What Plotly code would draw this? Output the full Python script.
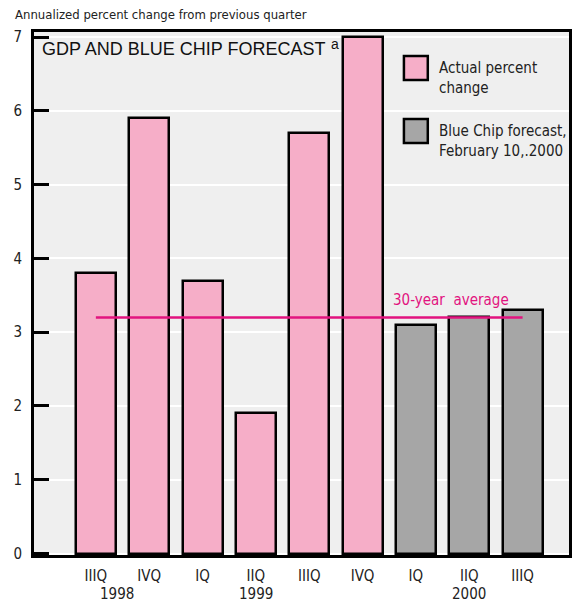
import plotly.graph_objects as go

# Quarterly real GDP growth, annualized percent change
quarters = ["IIIQ", "IVQ", "IQ", "IIQ", "IIIQ", "IVQ", "IQ", "IIQ", "IIIQ"]
actual_pos = [0, 1, 2, 3, 4, 5]
actual_vals = [3.8, 5.9, 3.7, 1.9, 5.7, 7.0]
forecast_pos = [6, 7, 8]
forecast_vals = [3.1, 3.2, 3.3]
avg_value = 3.2
years = ["1998", "1999", "2000"]
year_pos = [0.4, 3, 7]

PINK = "#f6aec8"
GREY = "#a6a6a6"
MAGENTA = "#e2137f"
NARROW = "DejaVu Sans Condensed, Liberation Sans Narrow, sans-serif"
SANS = "Liberation Sans, Arial, sans-serif"
TXT = "#222"

W, H = 574, 603
plot_l, plot_r, plot_t, plot_b = 34, 572, 32, 555


def px_x(px):
    return (px - plot_l) / (plot_r - plot_l)


def px_y(py):
    return (plot_b - py) / (plot_b - plot_t)


fig = go.Figure()
fig.add_trace(go.Bar(x=actual_pos, y=actual_vals, width=0.75,
                     marker=dict(color=PINK, line=dict(color="black", width=2.5)),
                     showlegend=False))
fig.add_trace(go.Bar(x=forecast_pos, y=forecast_vals, width=0.75,
                     marker=dict(color=GREY, line=dict(color="black", width=2.5)),
                     showlegend=False))
fig.add_trace(go.Scatter(x=[0, 8], y=[avg_value, avg_value], mode="lines",
                         line=dict(color=MAGENTA, width=2.5), showlegend=False,
                         hoverinfo="skip"))

annotations = [
    dict(text="Annualized percent change from previous quarter",
         x=px_x(13), y=px_y(5), xref="paper", yref="paper",
         xanchor="left", yanchor="top", showarrow=False,
         font=dict(family=NARROW, size=13, color=TXT)),
    dict(text="GDP AND BLUE CHIP FORECAST", x=px_x(40), y=px_y(37),
         xref="paper", yref="paper", xanchor="left", yanchor="top",
         showarrow=False, font=dict(family=SANS, size=18, color="#111")),
    dict(text="a", x=px_x(331), y=px_y(34), xref="paper", yref="paper",
         xanchor="left", yanchor="top", showarrow=False,
         font=dict(family=SANS, size=14, color="#111")),
    dict(text="30-year  average", x=6.65, y=avg_value, xref="x", yref="y",
         xanchor="center", yanchor="bottom", yshift=6, showarrow=False,
         font=dict(family=NARROW, size=15, color=MAGENTA)),
    dict(text="Actual percent<br>change", x=px_x(439), y=px_y(57),
         xref="paper", yref="paper", xanchor="left", yanchor="top",
         align="left", showarrow=False,
         font=dict(family=NARROW, size=15, color=TXT)),
    dict(text="Blue Chip forecast,<br>February 10,.2000", x=px_x(439),
         y=px_y(120), xref="paper", yref="paper", xanchor="left",
         yanchor="top", align="left", showarrow=False,
         font=dict(family=NARROW, size=15, color=TXT)),
]

for label, xp in zip(years, year_pos):
    annotations.append(dict(text=label, x=xp, y=px_y(583), xref="x", yref="paper",
                            xanchor="center", yanchor="top", showarrow=False,
                            font=dict(family=NARROW, size=15, color=TXT)))

shapes = [
    dict(type="rect", xref="paper", yref="paper",
         x0=px_x(406), x1=px_x(430), y0=px_y(56), y1=px_y(80),
         fillcolor=PINK, line=dict(color="black", width=2.5)),
    dict(type="rect", xref="paper", yref="paper",
         x0=px_x(406), x1=px_x(430), y0=px_y(119), y1=px_y(143),
         fillcolor=GREY, line=dict(color="black", width=2.5)),
]

fig.update_layout(
    width=W, height=H,
    margin=dict(l=plot_l, r=W - plot_r, t=plot_t, b=H - plot_b, pad=0),
    paper_bgcolor="white", plot_bgcolor="#efefef",
    bargap=0, showlegend=False,
    annotations=annotations, shapes=shapes,
    xaxis=dict(range=[-1.16, 8.87], tickmode="array",
               tickvals=list(range(len(quarters))), ticktext=quarters,
               showgrid=False, zeroline=False, ticks="",
               showline=True, linecolor="black", linewidth=3, mirror=True,
               ticklabelstandoff=5,
               tickfont=dict(family=NARROW, size=15, color=TXT)),
    yaxis=dict(range=[-0.02, 7.07], tickmode="array", tickvals=list(range(8)),
               showgrid=True, gridcolor="white", gridwidth=2, zeroline=False,
               ticks="inside", ticklen=15, tickwidth=2.5, tickcolor="black",
               showline=True, linecolor="black", linewidth=3, mirror=True,
               ticklabelstandoff=6,
               tickfont=dict(family=NARROW, size=15, color=TXT)),
)

fig.write_html("out.html")
